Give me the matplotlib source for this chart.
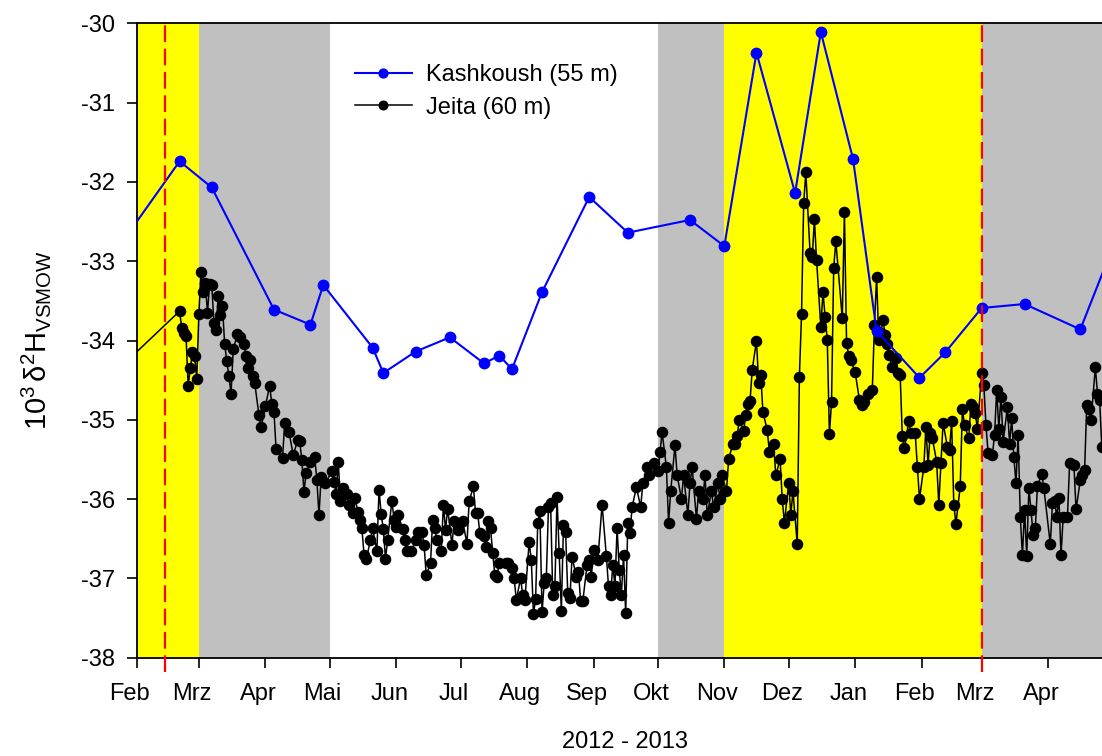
import numpy as np
import matplotlib
matplotlib.use("Agg")
import matplotlib.pyplot as plt
from matplotlib.transforms import ScaledTranslation

plt.rcParams['font.family'] = ['Liberation Sans', 'DejaVu Sans']
plt.rcParams['font.size'] = 17
plt.rcParams['axes.unicode_minus'] = False
plt.rcParams['mathtext.fontset'] = 'custom'
plt.rcParams['mathtext.rm'] = 'Liberation Sans'
plt.rcParams['mathtext.it'] = 'Liberation Sans'

# Tage ab 1. Feb 2012
start = np.datetime64('2012-02-01')

kash_day = [-17, 20, 35, 64, 81, 87, 110, 115, 130, 146, 162, 169, 175, 189, 211,
            229, 258, 274, 289, 307, 319, 334, 345, 365, 377, 394, 414, 440, 455]
kash_val = [-33.15, -31.74, -32.07, -33.61, -33.80, -33.30, -34.09, -34.41, -34.14,
            -33.96, -34.29, -34.19, -34.36, -33.39, -32.19, -32.64, -32.48, -32.81,
            -30.37, -32.14, -30.11, -31.71, -33.88, -34.47, -34.15, -33.59, -33.54,
            -33.86, -32.83]

jeita_day = [-17, 20, 21, 22, 23, 24, 25, 26, 27, 28, 29, 30, 31, 32, 33, 34, 35, 36, 37,
             38, 39, 40, 41, 42, 43, 44, 45, 47, 48, 50, 51, 52, 53, 54, 55, 57, 58, 60,
             62, 63, 64, 65, 68, 69, 71, 73, 75, 76, 77, 78, 79, 81, 83, 84, 85, 86, 88,
             91, 92, 93, 94, 95, 96, 98, 99, 101, 102, 103, 104, 105, 106, 107, 109, 110,
             112, 113, 114, 115, 116, 117, 119, 120, 121, 122, 124, 125, 126, 128, 130,
             131, 133, 134, 135, 137, 138, 139, 140, 142, 143, 144, 145, 147, 148, 150,
             152, 154, 155, 157, 158, 159, 160, 162, 163, 164, 165, 166, 167, 168, 169,
             172, 173, 175, 176, 177, 179, 180, 181, 183, 184, 185, 186, 187, 188, 189,
             190, 191, 192, 193, 194, 195, 196, 197, 198, 199, 200, 201, 202, 203, 205,
             206, 207, 208, 210, 211, 212, 213, 215, 217, 219, 220, 221, 222, 223, 224,
             225, 226, 227, 228, 229, 230, 231, 233, 235, 236, 238, 239, 241, 243, 244,
             245, 247, 248, 249, 251, 252, 254, 255, 257, 258, 259, 261, 262, 264, 265,
             266, 268, 269, 271, 272, 273, 275, 276, 278, 279, 280, 281, 283, 284, 285,
             286, 287, 289, 290, 291, 292, 294, 295, 297, 298, 300, 301, 302, 304, 305,
             306, 308, 309, 310, 311, 312, 314, 315, 316, 317, 319, 320, 321, 322, 323,
             324, 325, 326, 329, 330, 331, 332, 333, 335, 337, 338, 339, 341, 343, 344,
             345, 346, 347, 348, 349, 350, 351, 352, 354, 355, 356, 357, 358, 360, 361,
             363, 364, 365, 367, 368, 369, 370, 371, 373, 374, 375, 376, 378, 379, 380,
             381, 382, 384, 385, 386, 388, 389, 390, 391, 392, 394, 395, 396, 397, 399,
             400, 401, 402, 403, 404, 406, 407, 408, 409, 410, 411, 412, 413, 414, 415,
             416, 417, 418, 419, 420, 422, 423, 426, 427, 428, 429, 430, 431, 432, 434,
             435, 437, 438, 440, 441, 442, 443, 444, 445, 447, 448, 449, 450]
jeita_val = [-34.58, -33.63, -33.84, -33.91, -33.94, -34.57, -34.35, -34.15, -34.20,
             -34.48, -33.66, -33.13, -33.39, -33.28, -33.65, -33.29, -33.30, -33.78,
             -33.87, -33.44, -33.68, -33.57, -34.04, -34.26, -34.45, -34.67, -34.11,
             -33.92, -33.96, -34.05, -34.20, -34.35, -34.25, -34.45, -34.53, -34.94,
             -35.09, -34.83, -34.57, -34.80, -34.90, -35.37, -35.48, -35.04, -35.15,
             -35.45, -35.26, -35.27, -35.51, -35.91, -35.67, -35.53, -35.47, -35.76,
             -36.20, -35.72, -35.80, -35.65, -35.78, -35.93, -35.53, -36.03, -35.86,
             -35.93, -36.07, -36.18, -35.99, -36.16, -36.26, -36.37, -36.70, -36.76,
             -36.52, -36.37, -36.65, -35.88, -36.19, -36.38, -36.75, -36.52, -36.02,
             -36.26, -36.35, -36.20, -36.38, -36.52, -36.66, -36.66, -36.52, -36.41,
             -36.41, -36.58, -36.96, -36.81, -36.26, -36.37, -36.52, -36.66, -36.07,
             -36.39, -36.12, -36.58, -36.28, -36.39, -36.28, -36.56, -36.03, -35.84,
             -36.18, -36.18, -36.43, -36.47, -36.60, -36.28, -36.37, -36.68, -36.96,
             -36.98, -36.81, -36.81, -36.81, -36.87, -37.00, -37.27, -37.00, -37.21,
             -37.27, -36.54, -36.77, -37.45, -37.26, -36.30, -36.15, -37.43, -37.06,
             -36.99, -36.10, -36.05, -37.21, -37.10, -35.97, -36.68, -37.41, -36.33,
             -36.42, -37.19, -37.25, -36.73, -36.98, -36.92, -37.29, -37.29, -36.83,
             -36.77, -36.98, -36.64, -36.77, -36.07, -36.72, -37.10, -37.21, -36.83,
             -37.10, -36.36, -36.89, -37.21, -36.70, -37.44, -36.30, -36.43, -36.10,
             -35.85, -36.10, -35.80, -35.60, -35.70, -35.55, -35.65, -35.40, -35.16,
             -35.60, -36.30, -35.90, -35.32, -35.70, -36.00, -35.70, -36.20, -35.80,
             -35.60, -36.25, -35.90, -36.00, -35.70, -36.20, -35.90, -36.10, -35.80,
             -36.00, -35.70, -35.90, -35.50, -35.30, -35.31, -35.20, -35.00, -35.14,
             -34.94, -34.80, -34.76, -34.37, -34.00, -34.54, -34.44, -34.90, -35.13,
             -35.40, -35.31, -35.70, -35.50, -36.00, -36.30, -35.80, -36.20, -35.90,
             -36.57, -34.46, -33.67, -32.27, -31.88, -32.90, -32.95, -32.47, -32.98,
             -33.83, -33.39, -33.70, -33.99, -35.18, -34.77, -33.08, -32.75, -33.72,
             -32.38, -34.03, -34.20, -34.25, -34.40, -34.75, -34.81, -34.77, -34.67,
             -34.63, -33.80, -33.20, -33.99, -33.90, -33.74, -33.93, -34.04, -34.18,
             -34.33, -34.22, -34.41, -34.44, -35.21, -35.36, -35.02, -35.17, -35.17,
             -35.59, -36.00, -35.60, -35.09, -35.57, -35.17, -35.23, -35.53, -36.07,
             -35.55, -35.04, -35.34, -35.38, -35.02, -36.07, -36.31, -35.84, -34.86,
             -35.07, -35.23, -34.80, -34.84, -34.92, -35.11, -34.41, -34.56, -35.07,
             -35.42, -35.44, -35.19, -34.62, -35.11, -34.71, -35.28, -34.84, -35.30,
             -34.98, -35.47, -35.80, -35.19, -36.22, -36.71, -36.14, -36.72, -35.86,
             -36.14, -36.45, -36.37, -35.84, -35.68, -35.86, -36.57, -36.05, -36.03,
             -36.22, -35.98, -36.71, -36.22, -36.22, -35.55, -35.57, -36.13, -35.76,
             -35.70, -35.63, -34.81, -34.87, -35.00, -34.34, -34.67, -34.75, -35.34]

month_labels = ['Feb', 'Mrz', 'Apr', 'Mai', 'Jun', 'Jul', 'Aug', 'Sep', 'Okt',
                'Nov', 'Dez', 'Jan', 'Feb', 'Mrz', 'Apr']

# Jahreszeiten-Hintergrund
yellow_spans = [('2012-02-01', '2012-03-01'), ('2012-11-01', '2013-03-01')]
gray_spans = [('2012-03-01', '2012-05-01'), ('2012-10-01', '2012-11-01'),
              ('2013-03-01', '2013-05-01')]
red_lines = ['2012-02-14', '2013-03-01']

kash_t = start + np.array(kash_day).astype('timedelta64[D]')
jeita_t = start + np.array(jeita_day).astype('timedelta64[D]')

fig = plt.figure(figsize=(11.02, 7.56), dpi=100)
ax = fig.add_axes([136.7 / 1102, 1 - 657.7 / 756, (1112.5 - 136.7) / 1102,
                   (657.7 - 23.3) / 756])

for a, b in yellow_spans:
    ax.axvspan(np.datetime64(a), np.datetime64(b), color='#FFFF00', lw=0, zorder=0)
for a, b in gray_spans:
    ax.axvspan(np.datetime64(a), np.datetime64(b), color='#C0C0C0', lw=0, zorder=0)

ax.plot(jeita_t, jeita_val, color='black', lw=1.1, marker='o', ms=7.3,
        label='Jeita (60 m)', zorder=3)
ax.plot(kash_t, kash_val, color='#0000FF', lw=1.5, marker='o', ms=7.5,
        label='Kashkoush (55 m)', zorder=4)

for d in red_lines:
    ax.plot([np.datetime64(d)] * 2, [-38.18, -29.96], color='#FF0000', lw=1.6,
            ls=(0, (7.5, 3)), clip_on=False, zorder=5)

ax.set_xlim(np.datetime64('2012-02-01'), np.datetime64('2013-05-01'))
ax.set_ylim(-38, -30)

ticks = np.arange(np.datetime64('2012-02'), np.datetime64('2013-05'),
                  np.timedelta64(1, 'M')).astype('datetime64[D]')
ax.set_xticks(ticks)
ax.set_xticklabels(month_labels)
ax.set_yticks(np.arange(-38, -29))
ax.set_yticklabels([str(v) for v in range(-38, -29)])
ax.tick_params(axis='both', direction='out', length=7.5, width=1.2, labelsize=17)
ax.tick_params(axis='x', pad=11)
ax.tick_params(axis='y', pad=8)
shift = ScaledTranslation(-7 / 100, 0, fig.dpi_scale_trans)
for lab in ax.get_xticklabels():
    lab.set_transform(lab.get_transform() + shift)

for s in ['left', 'bottom', 'top']:
    ax.spines[s].set_linewidth(1.3)
ax.spines['right'].set_visible(False)

ax.set_xlabel('2012 - 2013', fontsize=17)
ax.xaxis.set_label_coords(0.5, -0.116)
ax.set_ylabel('10$^{3}$$\\,$δ$^{2}$H$_{\\mathrm{VSMOW}}$', fontsize=21)
ax.yaxis.set_label_coords(-0.086, 0.5)

handles, labels = ax.get_legend_handles_labels()
ax.legend(handles[::-1], labels[::-1], loc='upper left',
          bbox_to_anchor=(355 / 1102, 1 - 64 / 756), bbox_transform=fig.transFigure,
          frameon=False, borderpad=0, borderaxespad=0, handlelength=2.4,
          handletextpad=0.6, labelspacing=0.45, markerscale=0.85, fontsize=17)

fig.savefig('out.png', dpi=100)
